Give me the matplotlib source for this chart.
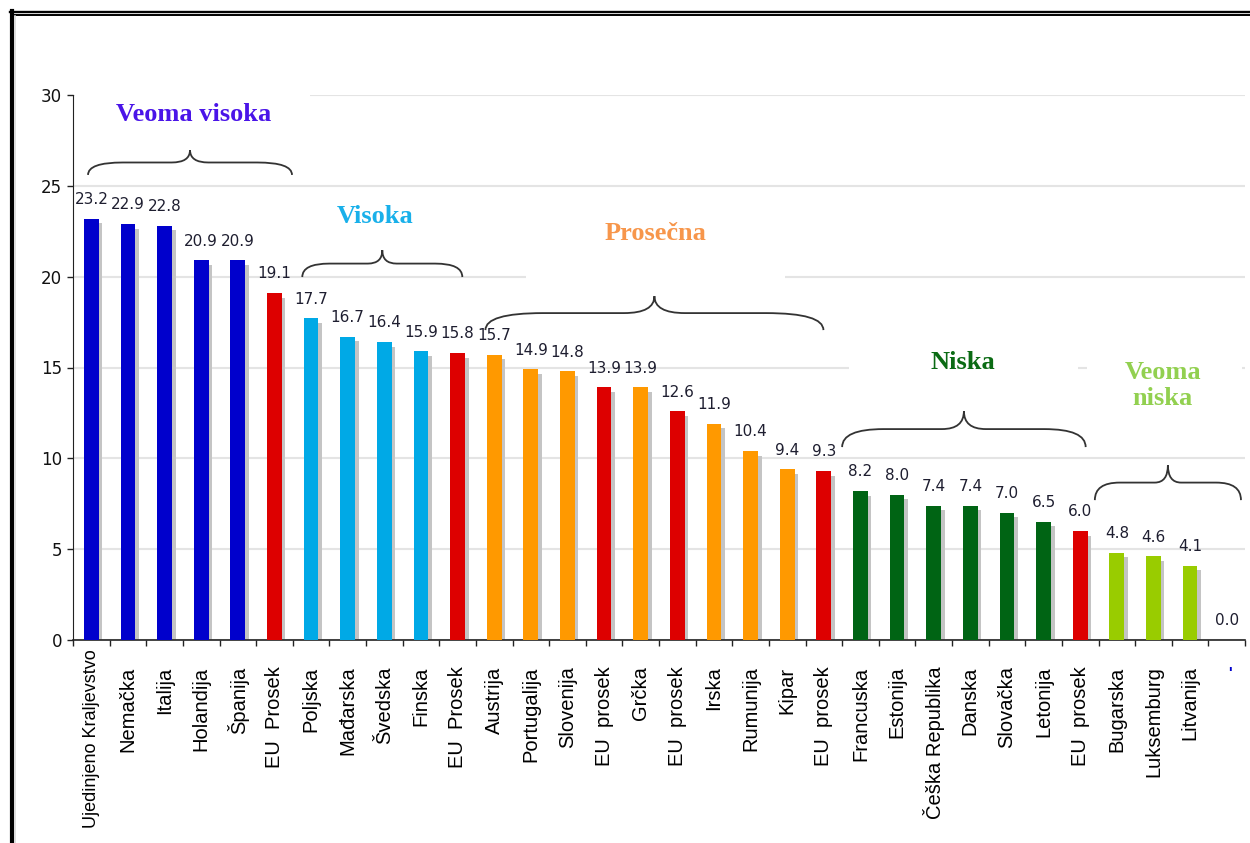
import matplotlib.pyplot as plt
from matplotlib.path import Path
from matplotlib.patches import PathPatch, Rectangle
from matplotlib.lines import Line2D
import matplotlib.transforms as mtransforms

zemlje = ["Ujedinjeno Kraljevstvo", "Nemačka", "Italija", "Holandija", "Španija", "EU  Prosek",
          "Poljska", "Mađarska", "Švedska", "Finska", "EU  Prosek",
          "Austrija", "Portugalija", "Slovenija", "EU  prosek", "Grčka", "EU  prosek",
          "Irska", "Rumunija", "Kipar", "EU  prosek",
          "Francuska", "Estonija", "Češka Republika", "Danska", "Slovačka", "Letonija", "EU  prosek",
          "Bugarska", "Luksemburg", "Litvanija", "'"]
vrednosti = [23.2, 22.9, 22.8, 20.9, 20.9, 19.1,
             17.7, 16.7, 16.4, 15.9, 15.8,
             15.7, 14.9, 14.8, 13.9, 13.9, 12.6,
             11.9, 10.4, 9.4, 9.3,
             8.2, 8.0, 7.4, 7.4, 7.0, 6.5, 6.0,
             4.8, 4.6, 4.1, 0.0]
grupe = ["vv"] * 5 + ["eu"] + ["v"] * 4 + ["eu"] + ["p"] * 3 + ["eu", "p", "eu"] + ["p"] * 3 + ["eu"] \
        + ["n"] * 6 + ["eu"] + ["vn"] * 4

boje = {"vv": "#0000cc", "eu": "#dd0000", "v": "#00a9e6", "p": "#ff9900",
        "n": "#006414", "vn": "#99cc00"}

# naslovi grupa: tekst, boja, (x, y) centra, vitičasta zagrada (x0, x1, y kraj, y vrh)
naslovi = [
    ("Veoma visoka", "#4a14e8", (3.3, 28.9), (0.41, 5.98, 25.6, 26.97)),
    ("Visoka", "#19b0ea", (8.25, 23.3), (6.26, 10.63, 19.98, 21.46)),
    ("Prosečna", "#f7964b", (15.9, 22.4), (11.26, 20.49, 17.06, 18.93)),
    ("Niska", "#0b6b14", (24.3, 15.3), (21.0, 27.65, 10.62, 12.6)),
    ("Veoma\nniska", "#92d050", (29.75, 14.0), (27.9, 31.89, 7.7, 9.63)),
]


def zagrada(ax, x0, x1, y0, y1):
    xm = (x0 + x1) / 2
    ym = (y0 + y1) / 2
    w = x1 - x0
    r1, r2 = 0.17 * w, 0.09 * w
    verts = [(x0, y0), (x0, ym), (x0 + r1, ym), (xm - r2, ym), (xm, ym), (xm, y1),
             (xm, ym), (xm + r2, ym), (x1 - r1, ym), (x1, ym), (x1, y0)]
    codes = [Path.MOVETO, Path.CURVE3, Path.CURVE3, Path.LINETO, Path.CURVE3, Path.CURVE3,
             Path.CURVE3, Path.CURVE3, Path.LINETO, Path.CURVE3, Path.CURVE3]
    ax.add_patch(PathPatch(Path(verts, codes), fill=False, edgecolor="#333333", lw=1.3, zorder=5))


fig = plt.figure(figsize=(12.5, 8.43), dpi=100)
W, H = 1250, 843
ax = fig.add_axes([73 / W, 1 - 640 / H, (1245 - 73) / W, (640 - 95) / H])

x = [i + 0.5 for i in range(len(vrednosti))]
# senka iza stubova
ax.bar([xi + 0.1 for xi in x], [max(v - 0.25, 0) for v in vrednosti], width=0.4,
       color="#c4c4c4", zorder=2)
ax.bar(x, vrednosti, width=0.4, color=[boje[g] for g in grupe], zorder=3)

for xi, v in zip(x, vrednosti):
    ax.text(xi, v + 1.05, f"{v:.1f}", ha="center", va="center", fontsize=11,
            family="DejaVu Sans", color="#1e1e30", zorder=6)

ax.set_xlim(0, len(vrednosti))
ax.set_ylim(0, 30)
ax.set_yticks([0, 5, 10, 15, 20, 25, 30])
ax.set_xticks(range(len(vrednosti) + 1))
ax.set_xticklabels([])
ax.tick_params(axis="x", direction="out", length=4, width=1, color="#222222")
ax.tick_params(axis="y", direction="out", length=4, width=1, pad=4, labelsize=12,
               color="#222222", labelcolor="#111111")
ax.yaxis.grid(True, color="#e4e4e4", lw=1.5, zorder=0)
ax.set_axisbelow(True)
for s in ["top", "right"]:
    ax.spines[s].set_visible(False)
ax.spines["left"].set_color("#222222")
ax.spines["bottom"].set_color("#222222")
ax.spines["bottom"].set_linewidth(1.2)

# nazivi zemalja ispod ose
for i, (xi, naziv) in enumerate(zip(x, zemlje)):
    pomak = -7 if i == 0 else -19
    tr = mtransforms.offset_copy(ax.get_xaxis_transform(), fig=fig, x=0, y=pomak, units="points")
    if naziv == "'":
        ax.text(xi + 0.1, 0, naziv, transform=tr, ha="center", va="top", fontsize=11,
                family="Liberation Sans", color="#0000cc", fontweight="bold", clip_on=False)
        continue
    ax.text(xi, 0, naziv, transform=tr, rotation=90, ha="center", va="top",
            fontsize=13 if i == 0 else 14.5, family="Liberation Sans", color="black",
            clip_on=False)

# bele pozadine iza naslova grupa
for x0, x1, y0, y1 in [(0.05, 6.47, 28.3, 30.5), (12.37, 19.44, 19.5, 22.0),
                       (21.2, 27.44, 14.5, 16.3), (27.69, 31.92, 14.5, 16.3)]:
    ax.add_patch(Rectangle((x0, y0), x1 - x0, y1 - y0, facecolor="white", edgecolor="none",
                           zorder=1, clip_on=True))

for tekst, boja, (tx, ty), (x0, x1, y0, y1) in naslovi:
    ax.text(tx, ty, tekst, ha="center", va="center", fontsize=19, fontweight="bold",
            family="Liberation Serif", color=boja, linespacing=1.15, zorder=6)
    zagrada(ax, x0, x1, y0, y1)

# okvir slike
fig.add_artist(Line2D([10 / W, 1], [1 - 12 / H, 1 - 12 / H], color="black", lw=1.7))
fig.add_artist(Line2D([14 / W, 1], [1 - 15 / H, 1 - 15 / H], color="black", lw=1.4))
fig.add_artist(Line2D([12 / W, 12 / W], [1 - 11 / H, 0], color="black", lw=3))
fig.add_artist(Line2D([15 / W, 15 / W], [1 - 16 / H, 0], color="#d8d8d8", lw=1.2))

fig.savefig("out.png", dpi=100)
